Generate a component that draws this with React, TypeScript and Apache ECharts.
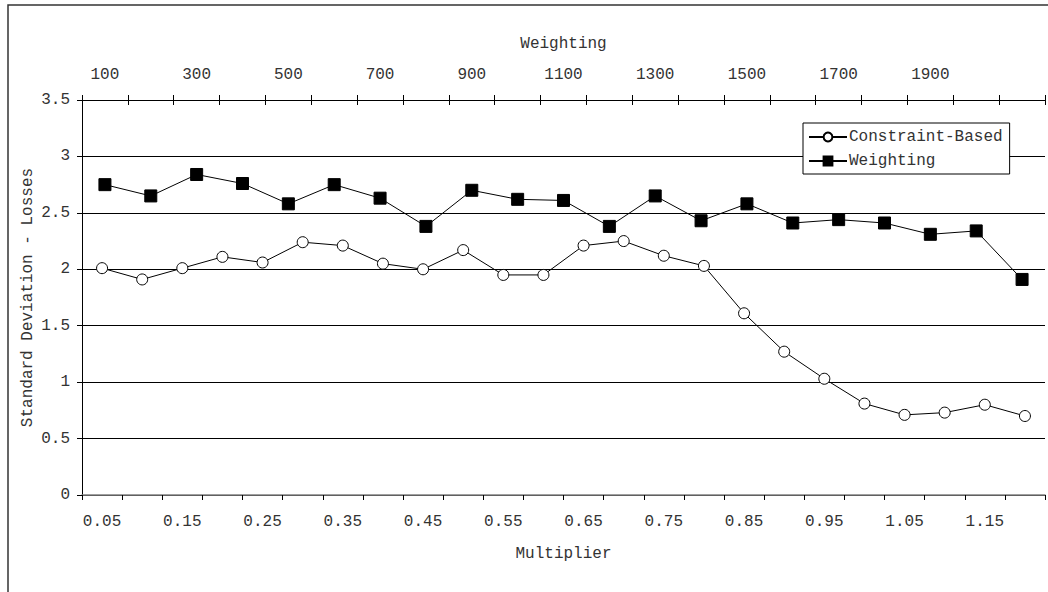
import React, { useEffect, useRef } from "react";
import * as echarts from "echarts";

const multipliers = [
  "0.05", "0.1", "0.15", "0.2", "0.25", "0.3", "0.35", "0.4", "0.45", "0.5", "0.55", "0.6",
  "0.65", "0.7", "0.75", "0.8", "0.85", "0.9", "0.95", "1", "1.05", "1.1", "1.15", "1.2",
];
const weights = [
  "100", "200", "300", "400", "500", "600", "700", "800", "900", "1000", "1100",
  "1200", "1300", "1400", "1500", "1600", "1700", "1800", "1900", "2000", "2100",
];
const constraintBased = [
  2.01, 1.91, 2.01, 2.11, 2.06, 2.24, 2.21, 2.05, 2.0, 2.17, 1.95, 1.95,
  2.21, 2.25, 2.12, 2.03, 1.61, 1.27, 1.03, 0.81, 0.71, 0.73, 0.8, 0.7,
];
const weighting = [
  2.75, 2.65, 2.84, 2.76, 2.58, 2.75, 2.63, 2.38, 2.7, 2.62, 2.61,
  2.38, 2.65, 2.43, 2.58, 2.41, 2.44, 2.41, 2.31, 2.34, 1.91,
];
const yTicks = { min: 0, max: 3.5, interval: 0.5 };

const FONT = "Liberation Mono";
const TXT = "#333";

export default function App() {
  const ref = useRef<HTMLDivElement>(null);
  useEffect(() => {
    if (!ref.current) return;
    const chart = echarts.init(ref.current, null, { renderer: "svg" });
    const text = { fontFamily: FONT, fontSize: 16, color: TXT };
    chart.setOption({
      animation: false,
      backgroundColor: "#fff",
      textStyle: { fontFamily: FONT },
      graphic: [
        {
          type: "rect",
          shape: { x: 8, y: 5, width: 1200, height: 800 },
          style: { fill: "none", stroke: "#333", lineWidth: 1.5 },
          silent: true,
          z: -1,
        },
      ],
      grid: { left: 82, right: 3, top: 100, bottom: 97, containLabel: false },
      legend: {
        orient: "vertical",
        left: 803,
        top: 123,
        padding: [6, 7, 5, 5],
        itemGap: 8,
        itemWidth: 38,
        itemHeight: 11,
        backgroundColor: "#fff",
        borderColor: "#000",
        borderWidth: 1,
        borderRadius: 0,
        textStyle: { ...text, padding: [0, 0, 0, -3] },
        data: ["Constraint-Based", "Weighting"],
      },
      xAxis: [
        {
          type: "category",
          position: "bottom",
          data: multipliers,
          boundaryGap: true,
          name: "Multiplier",
          nameLocation: "middle",
          nameGap: 51,
          nameMoveOverlap: false,
          nameTextStyle: { ...text },
          axisLine: { lineStyle: { color: "#808080", width: 1.5 } },
          axisTick: { show: true, interval: 0, length: 5, lineStyle: { color: "#000" } },
          axisLabel: {
            ...text,
            interval: 1,
            margin: 19,
            formatter: (v: string) => Number(v).toFixed(2),
          },
          splitLine: { show: false },
        },
        {
          type: "category",
          position: "top",
          data: weights,
          boundaryGap: true,
          name: "Weighting",
          nameLocation: "middle",
          nameGap: 48,
          nameMoveOverlap: false,
          nameTextStyle: { ...text },
          axisLine: { lineStyle: { color: "#000", width: 1 } },
          axisTick: { show: true, interval: 0, length: 5, lineStyle: { color: "#000" } },
          axisLabel: {
            ...text,
            margin: 17,
            interval: (i: number) => i % 2 === 0 && i < weights.length - 1,
          },
          splitLine: { show: false },
        },
        {
          type: "category",
          position: "top",
          data: weights,
          boundaryGap: true,
          axisLine: { show: false },
          axisTick: { show: true, inside: true, interval: 0, length: 5, lineStyle: { color: "#000" } },
          axisLabel: { show: false },
          splitLine: { show: false },
        },
      ],
      yAxis: {
        type: "value",
        min: yTicks.min,
        max: yTicks.max,
        interval: yTicks.interval,
        name: "Standard Deviation - Losses",
        nameLocation: "middle",
        nameGap: 46,
        nameMoveOverlap: false,
        nameRotate: 90,
        nameTextStyle: { ...text },
        axisLine: { show: true, lineStyle: { color: "#000", width: 1 } },
        axisTick: { show: true, length: 5, lineStyle: { color: "#000" } },
        axisLabel: { ...text, margin: 12 },
        splitLine: { show: true, lineStyle: { color: "#000", width: 1 } },
      },
      series: [
        {
          name: "Constraint-Based",
          type: "line",
          xAxisIndex: 0,
          data: constraintBased,
          symbol: "circle",
          symbolSize: 11,
          lineStyle: { color: "#000", width: 1 },
          itemStyle: { color: "#fff", borderColor: "#000", borderWidth: 1 },
          z: 3,
        },
        {
          name: "Weighting",
          type: "line",
          xAxisIndex: 1,
          data: weighting,
          symbol: "rect",
          symbolSize: 12,
          lineStyle: { color: "#000", width: 1 },
          itemStyle: { color: "#000", borderColor: "#000", borderWidth: 1 },
          z: 3,
        },
      ],
    });
    return () => chart.dispose();
  }, []);
  return (
    <div
      ref={ref}
      style={{ position: "fixed", left: 0, top: 0, width: 1048, height: 592 }}
    />
  );
}
